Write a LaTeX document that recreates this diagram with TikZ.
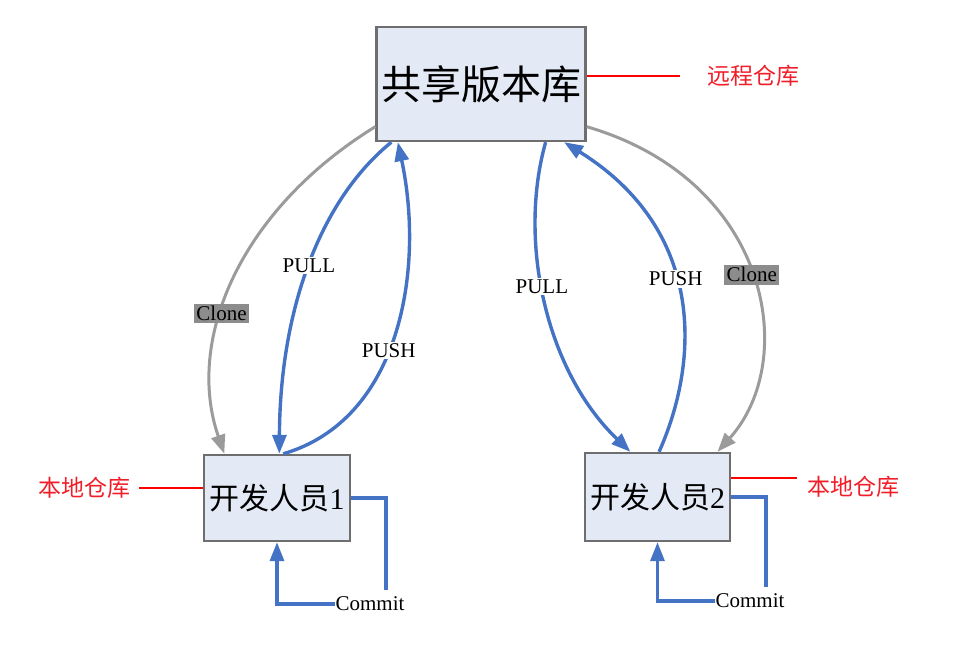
\documentclass[tikz,border=0pt]{standalone}
\usepackage{fontspec}
\setmainfont{Liberation Serif}
\newfontfamily\cjk{Noto Sans CJK SC}
\usetikzlibrary{arrows.meta, positioning, calc}
\definecolor{flowblue}{RGB}{68,114,196}
\definecolor{boxfill}{RGB}{228,234,245}
\definecolor{boxline}{RGB}{110,110,110}
\definecolor{clonegray}{RGB}{155,155,155}
\definecolor{tagfill}{RGB}{140,140,140}
\definecolor{notered}{RGB}{240,30,40}

\begin{document}
\begin{tikzpicture}[x=1pt, y=-1pt,
  repo/.style={draw=boxline, line width=2.4pt, fill=boxfill, inner sep=0pt},
  flow/.style={flowblue, line width=3.4pt},
  clone/.style={clonegray, line width=3pt},
  flowhead/.style={-{Triangle[length=19pt,width=14pt]}},
  lbl/.style={fill=white, inner sep=1.5pt, text=black, font=\fontsize{21}{21}\selectfont},
  tag/.style={fill=tagfill, inner sep=2.5pt, text=black, font=\fontsize{21}{21}\selectfont},
  remark/.style={text=notered, inner sep=0pt, font=\cjk\fontsize{23}{23}\selectfont},
  noteline/.style={red, line width=1.6pt}]
  \useasboundingbox (0,0) rectangle (977,647);

  % repositories
  \node[repo, minimum width=209pt, minimum height=114pt, font=\cjk\fontsize{40}{40}\selectfont] (shared) at (481,84) {共享版本库};
  \node[repo, minimum width=146pt, minimum height=86pt, font=\fontsize{30}{30}\selectfont] (dev1) at (277,498) {{\cjk 开发人员}1};
  \node[repo, minimum width=145pt, minimum height=88pt, font=\fontsize{30}{30}\selectfont] (dev2) at (657.5,497) {{\cjk 开发人员}2};

  % red notes
  \node[remark] (remote) at (753,76) {远程仓库};
  \draw[noteline, shorten >=27pt] (shared.east |- remote) -- (remote.west);
  \node[remark] (local1) at (84,488) {本地仓库};
  \draw[noteline, shorten <=9pt] (local1.east) -- (dev1.west |- local1);
  \node[remark, anchor=west] (local2) at (807,487) {本地仓库};
  \coordinate (mark2) at (797,478);
  \draw[noteline] (dev2.east |- mark2) -- (mark2);

  % clone, pull and push, left side
  \draw[clone, flowhead] (shared.202) .. controls (240,210) and (185,340) .. (dev1.140)
    node[tag, pos=0.6] {Clone};
  \draw[flow, flowhead] (shared.213) .. controls (320,200) and (280,310) .. (dev1.87)
    node[lbl, pos=0.5] {PULL};
  \draw[flow, flowhead] (dev1.82) .. controls (400,420) and (425,270) .. (shared.215.5)
    node[lbl, pos=0.45] {PUSH};

  % clone, pull and push, right side
  \draw[clone, flowhead] (shared.338.6) .. controls (770,180) and (800,360) .. (dev2.37.6)
    node[tag, pos=0.5] {Clone};
  \draw[flow, flowhead] (shared.318.8) .. controls (518,240) and (545,370) .. (dev2.121)
    node[lbl, pos=0.45] {PULL};
  \draw[flow, flowhead] (dev2.88) .. controls (700,360) and (705,230) .. (shared.325.2)
    node[lbl, pos=0.55] {PUSH};

  % local commits
  \node[lbl, fill=none, inner sep=0pt] (commit1) at (370,604) {Commit};
  \coordinate (bend1) at (386,590);
  \draw[flow] (dev1.east) -| (bend1);
  \draw[flow, flowhead] (commit1.west) -| (dev1.south);
  \node[lbl, fill=none, inner sep=0pt] (commit2) at (750,601) {Commit};
  \coordinate (bend2) at (766,587);
  \draw[flow] (dev2.east) -| (bend2);
  \draw[flow, flowhead] (commit2.west) -| (dev2.south);
\end{tikzpicture}
\end{document}
